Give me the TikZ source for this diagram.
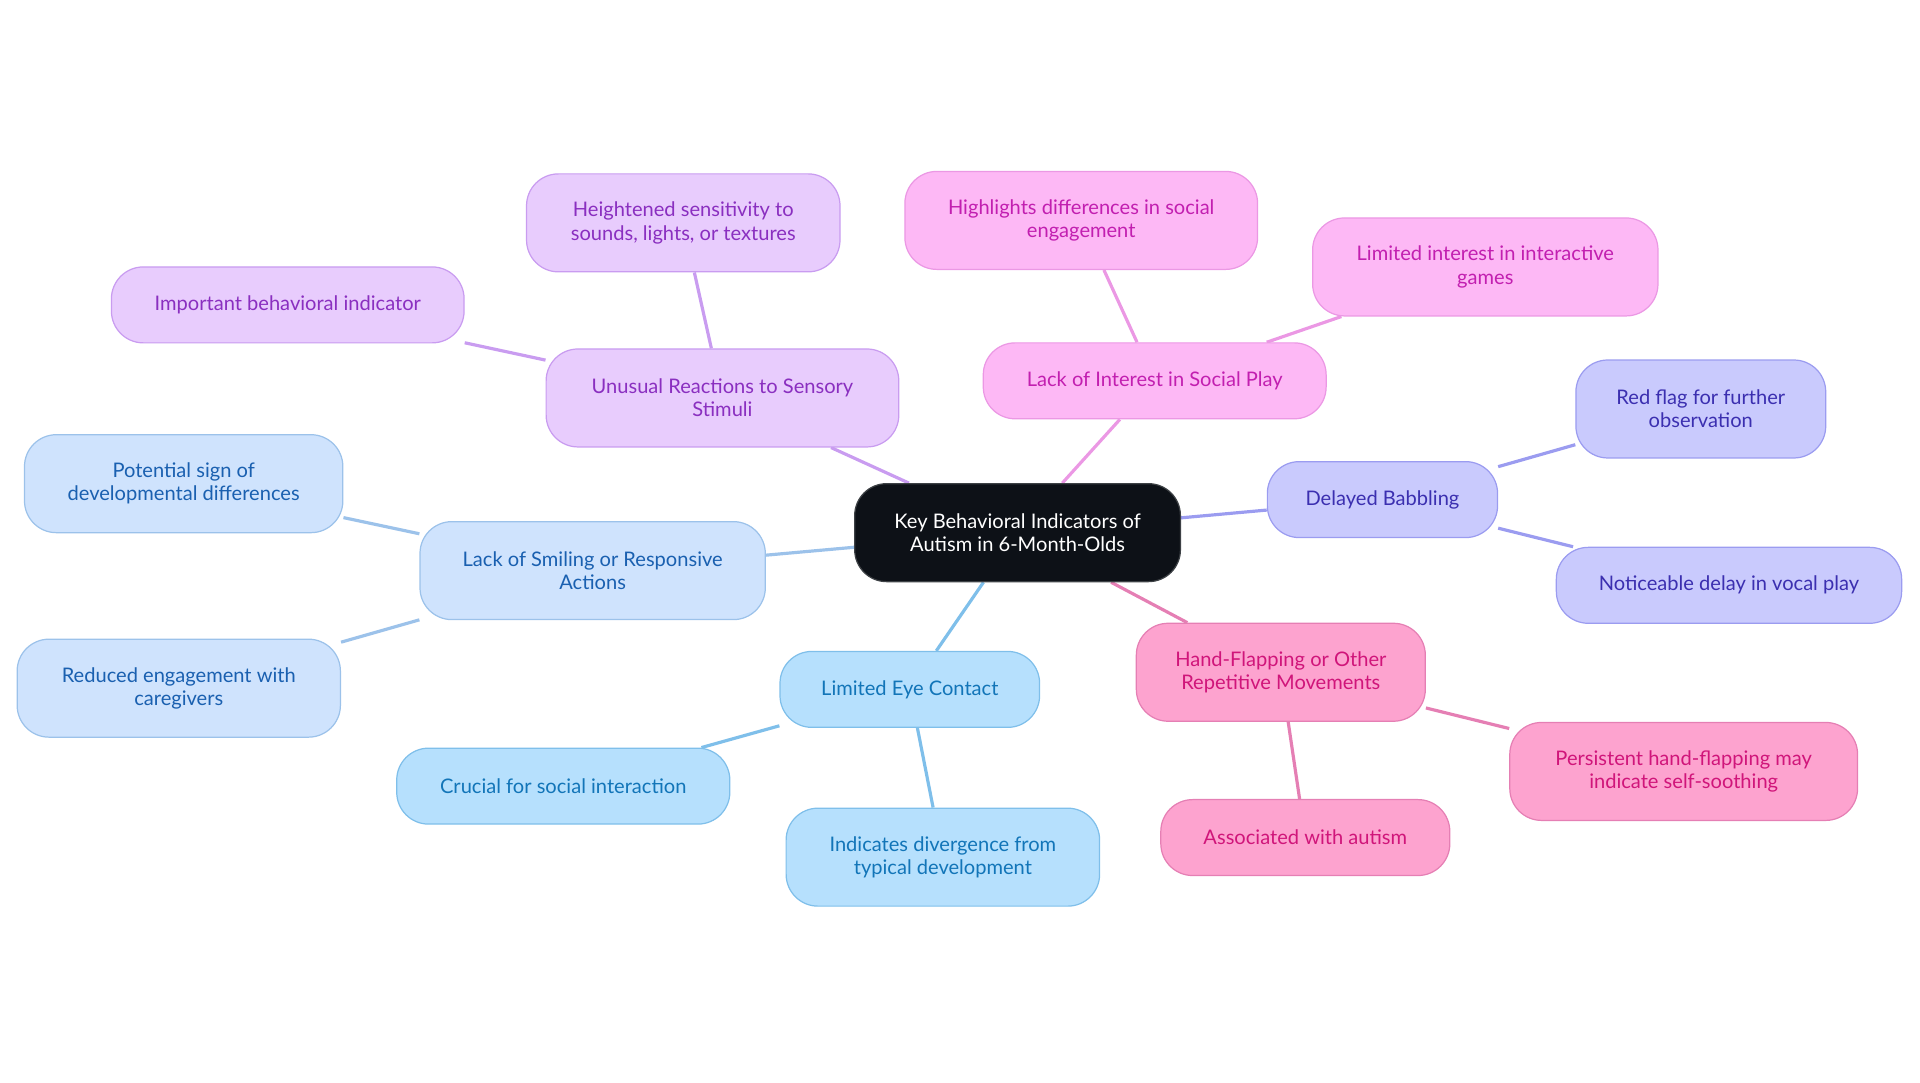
\documentclass[tikz,border=0pt]{standalone}
\usepackage{fontspec}
\setmainfont{Lato}
\usetikzlibrary{backgrounds}
\definecolor{rootfill}{HTML}{0D1117}
\definecolor{purfill}{HTML}{E8CCFD}\definecolor{purline}{HTML}{C99CF0}\definecolor{purtext}{HTML}{8A2FC0}
\definecolor{magfill}{HTML}{FDB8F5}\definecolor{magline}{HTML}{EB98E4}\definecolor{magtext}{HTML}{C21FB0}
\definecolor{indfill}{HTML}{C9CAFD}\definecolor{indline}{HTML}{9B9CF0}\definecolor{indtext}{HTML}{3B2FB0}
\definecolor{hotfill}{HTML}{FDA3CF}\definecolor{hotline}{HTML}{E57FB4}\definecolor{hottext}{HTML}{D0157A}
\definecolor{bluefill}{HTML}{B6E0FD}\definecolor{blueline}{HTML}{7FBFEA}\definecolor{bluetext}{HTML}{1275B8}
\definecolor{palefill}{HTML}{CFE3FD}\definecolor{paleline}{HTML}{9CC2EA}\definecolor{paletext}{HTML}{1A60B0}
\tikzset{
  box/.style={rounded corners=13pt,align=center,inner sep=2pt,line width=0.5pt,
    font=\fontsize{8.2}{9.5}\selectfont},
  root/.style={box,fill=rootfill,draw=rootfill!80!white,text=white,minimum width=133pt,minimum height=40pt},
  pur/.style={box,fill=purfill,draw=purline,text=purtext},
  mag/.style={box,fill=magfill,draw=magline,text=magtext},
  ind/.style={box,fill=indfill,draw=indline,text=indtext},
  hot/.style={box,fill=hotfill,draw=hotline,text=hottext},
  blu/.style={box,fill=bluefill,draw=blueline,text=bluetext},
  pal/.style={box,fill=palefill,draw=paleline,text=paletext},
  one/.style={minimum height=31pt},
  two/.style={minimum height=40pt},
  link/.style={line width=1.3pt}
}
\begin{document}
\begin{tikzpicture}[x=0.5pt,y=-0.5pt]
\useasboundingbox (0,0) rectangle (1568,884);
\node[root] (root) at (831,435) {Key Behavioral Indicators of\\Autism in 6-Month-Olds};
% sensory
\node[pur,two,minimum width=144pt] (sens) at (590,325) {Unusual Reactions to Sensory\\Stimuli};
\node[pur,two,minimum width=128pt] (sens1) at (558,182) {Heightened sensitivity to\\sounds, lights, or textures};
\node[pur,one,minimum width=144pt] (sens2) at (235,249) {Important behavioral indicator};
% social play
\node[mag,one,minimum width=140pt] (play) at (943,311) {Lack of Interest in Social Play};
\node[mag,two,minimum width=144pt] (play1) at (883,180) {Highlights differences in social\\engagement};
\node[mag,two,minimum width=141pt] (play2) at (1213,218) {Limited interest in interactive\\games};
% babbling
\node[ind,one,minimum width=94pt] (babb) at (1129,408) {Delayed Babbling};
\node[ind,two,minimum width=102pt] (babb1) at (1389,334) {Red flag for further\\observation};
\node[ind,one,minimum width=141pt] (babb2) at (1412,478) {Noticeable delay in vocal play};
% hand-flapping
\node[hot,two,minimum width=118pt] (hand) at (1046,549) {Hand-Flapping or Other\\Repetitive Movements};
\node[hot,two,minimum width=142pt] (hand1) at (1375,630) {Persistent hand-flapping may\\indicate self-soothing};
\node[hot,one,minimum width=118pt] (hand2) at (1066,684) {Associated with autism};
% eye contact
\node[blu,one,minimum width=106pt] (eye) at (743,563) {Limited Eye Contact};
\node[blu,one,minimum width=136pt] (eye1) at (460,642) {Crucial for social interaction};
\node[blu,two,minimum width=128pt] (eye2) at (770,700) {Indicates divergence from\\typical development};
% smiling
\node[pal,two,minimum width=141pt] (smil) at (484,466) {Lack of Smiling or Responsive\\Actions};
\node[pal,two,minimum width=130pt] (smil1) at (150,395) {Potential sign of\\developmental differences};
\node[pal,two,minimum width=132pt] (smil2) at (146,562) {Reduced engagement with\\caregivers};
\begin{scope}[on background layer]
\draw[link,purline] (root) -- (sens) (sens) -- (sens1) (sens) -- (sens2);
\draw[link,magline] (root) -- (play) (play) -- (play1) (play) -- (play2);
\draw[link,indline] (root) -- (babb) (babb) -- (babb1) (babb) -- (babb2);
\draw[link,hotline] (root) -- (hand) (hand) -- (hand1) (hand) -- (hand2);
\draw[link,blueline] (root) -- (eye) (eye) -- (eye1) (eye) -- (eye2);
\draw[link,paleline] (root) -- (smil) (smil) -- (smil1) (smil) -- (smil2);
\end{scope}
\end{tikzpicture}
\end{document}
